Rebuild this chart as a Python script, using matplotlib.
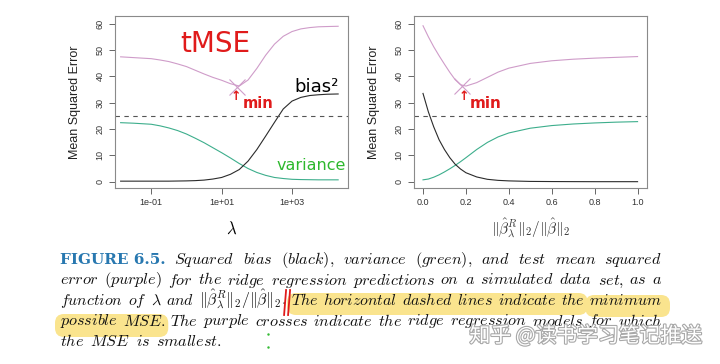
import re
import matplotlib
matplotlib.use("Agg")
import matplotlib.pyplot as plt
import matplotlib.patheffects as pe
from matplotlib.patches import FancyBboxPatch
from matplotlib.lines import Line2D
from matplotlib.ticker import NullLocator
from matplotlib.transforms import IdentityTransform

plt.rcParams['font.family'] = ['Liberation Sans', 'DejaVu Sans']
plt.rcParams['mathtext.fontset'] = 'cm'

W, H = 720, 364

# ---- left panel: x is log10(lambda)
lam_exp = [-1.87, -1.5, -1.25, -1.0, -0.75, -0.5, -0.25, 0.0, 0.25, 0.5, 0.75, 1.0,
           1.25, 1.5, 1.75, 2.0, 2.25, 2.5, 2.75, 3.0, 3.25, 3.5, 3.75, 4.0, 4.31]
bias_l = [0.2, 0.2, 0.2, 0.2, 0.2, 0.2, 0.25, 0.3, 0.4, 0.6, 1.0, 1.6,
          2.8, 4.6, 7.8, 12.2, 17.3, 22.5, 27.6, 30.6, 32.0, 32.7, 33.0, 33.2, 33.3]
var_l = [22.4, 22.2, 22.0, 21.8, 21.2, 20.4, 19.4, 18.1, 16.5, 14.8, 12.9, 11.0,
         9.0, 6.9, 5.0, 3.5, 2.4, 1.6, 1.2, 0.9, 0.8, 0.75, 0.7, 0.7, 0.7]
mse_l = [47.4, 47.1, 46.9, 46.7, 46.2, 45.6, 44.7, 43.7, 42.3, 40.9, 39.6, 38.5,
         37.2, 36.3, 38.6, 43.0, 48.0, 52.2, 55.2, 57.0, 58.0, 58.5, 58.8, 58.9, 59.0]
min_l = (10 ** 1.44, 36.0)

# ---- right panel: ||beta_lambda||_2 / ||beta||_2
ratio = [0.0, 0.025, 0.05, 0.075, 0.1, 0.125, 0.15, 0.175, 0.2, 0.25, 0.3, 0.35,
         0.4, 0.5, 0.6, 0.7, 0.8, 0.9, 1.0]
bias_r = [33.5, 26.5, 20.8, 15.9, 12.2, 9.1, 6.6, 4.8, 3.4, 1.8, 0.9, 0.5,
          0.3, 0.1, 0.05, 0.02, 0.0, 0.0, 0.0]
var_r = [0.7, 1.0, 1.7, 2.6, 3.7, 4.9, 6.2, 7.6, 9.1, 12.2, 14.9, 17.0,
         18.5, 20.3, 21.3, 21.9, 22.3, 22.6, 22.8]
mse_r = [59.2, 55.0, 51.2, 47.8, 44.6, 41.5, 38.7, 36.8, 36.3, 37.6, 39.6, 41.6,
         43.1, 44.9, 45.9, 46.5, 46.9, 47.2, 47.5]
min_r = (0.18, 36.4)

mse_floor = 25

c_mse = '#cf9cc9'
c_var = '#3dae8c'
c_bias = '#2b2b2b'

fig = plt.figure(figsize=(7.2, 3.64), dpi=100)


def P(x, y):
    return x / W, 1 - y / H


def ax_at(x0, x1, y0, y1):
    return fig.add_axes([x0 / W, 1 - y1 / H, (x1 - x0) / W, (y1 - y0) / H])


def style(ax):
    for s in ax.spines.values():
        s.set_color('#8a8a8a')
        s.set_linewidth(0.8)
    ax.tick_params(direction='out', length=4.5, width=0.7, color='#666666',
                   labelsize=6.5, labelcolor='#333333', pad=3)
    ax.set_ylim(-2.4, 62.9)
    ax.set_yticks(range(0, 61, 10))
    for lab in ax.get_yticklabels():
        lab.set_rotation(90)
        lab.set_va('center')
    ax.set_ylabel('Mean Squared Error', fontsize=9, color='#222222')
    ax.yaxis.set_label_coords(-0.146, 0.5)
    ax.axhline(mse_floor, color='#555555', lw=0.8, ls=(0, (4, 4)))


axL = ax_at(115, 348, 16, 188)
axR = ax_at(414, 647, 16, 188)

lam = [10.0 ** e for e in lam_exp]
axL.plot(lam, mse_l, color=c_mse, lw=0.8)
axL.plot(lam, var_l, color=c_var, lw=0.8)
axL.plot(lam, bias_l, color=c_bias, lw=0.8)
axL.plot(*min_l, marker='x', ms=11, mew=0.8, color=c_mse)
axL.set_xscale('log')
axL.set_xlim(10 ** -2.03, 10 ** 4.59)
axL.set_xticks([0.1, 10, 1000])
axL.set_xticklabels(['1e-01', '1e+01', '1e+03'])
axL.xaxis.set_minor_locator(NullLocator())
style(axL)
axL.set_xlabel(r'$\lambda$', fontsize=12)
axL.xaxis.set_label_coords(0.5, -0.19)

axR.plot(ratio, mse_r, color=c_mse, lw=0.8)
axR.plot(ratio, var_r, color=c_var, lw=0.8)
axR.plot(ratio, bias_r, color=c_bias, lw=0.8)
axR.plot(*min_r, marker='x', ms=11, mew=0.8, color=c_mse)
axR.set_xlim(-0.042, 1.044)
axR.set_xticks([0.0, 0.2, 0.4, 0.6, 0.8, 1.0])
axR.set_xticklabels(['0.0', '0.2', '0.4', '0.6', '0.8', '1.0'])
style(axR)
axR.set_xlabel(r'$\|\hat{\beta}^R_\lambda\|_2/\|\hat{\beta}\|_2$', fontsize=11, color='#333333')
axR.xaxis.set_label_coords(0.5, -0.165)

# handwritten notes
red = '#e01b1b'
fig.text(*P(215, 44), 'tMSE', color=red, fontsize=20, ha='center', va='center',
         family='DejaVu Sans')
fig.text(*P(236, 97), '↑', color=red, fontsize=9, ha='center', va='center',
         family='DejaVu Sans', weight='bold')
fig.text(*P(258, 103), 'min', color=red, fontsize=10.5, ha='center', va='center',
         family='DejaVu Sans', weight='bold')
fig.text(*P(464, 97), '↑', color=red, fontsize=9, ha='center', va='center',
         family='DejaVu Sans', weight='bold')
fig.text(*P(486, 103), 'min', color=red, fontsize=11, ha='center', va='center',
         family='DejaVu Sans', weight='bold')
fig.text(*P(317, 87), 'bias²', color='black', fontsize=13, ha='center', va='center',
         family='DejaVu Sans')
fig.text(*P(311, 166), 'variance', color='#2db82d', fontsize=11.5, ha='center',
         va='center', family='DejaVu Sans')

# ---- caption
cap_size = 11.6
blue = '#2878b0'
ink = '#111111'


def it(w):
    return '$' + re.sub(r'([A-Za-z]+)', r'\\mathit{\1}', w) + '$'


norm = r'$\|\hat{\beta}^R_\lambda\|_2/\|\hat{\beta}\|_2.$'
lines = [
    [('FIGURE 6.5.', blue, 'bold')] + [(it(w), ink, None) for w in
        'Squared bias (black), variance (green), and test mean squared'.split()],
    [(it(w), ink, None) for w in
        'error (purple) for the ridge regression predictions on a simulated data set, as a'.split()],
    [(it(w), ink, None) for w in 'function of'.split()] + [(r'$\lambda$', ink, None),
        (it('and'), ink, None), (norm, ink, None)] + [(it(w), ink, None) for w in
        'The horizontal dashed lines indicate the minimum'.split()],
    [(it(w), ink, None) for w in
        'possible MSE. The purple crosses indicate the ridge regression models for which'.split()],
    [(it(w), ink, None) for w in 'the MSE is smallest.'.split()],
]
baselines = [264, 284.5, 305, 325.5, 346]
x_left, x_right = 60, 662

r = fig.canvas.get_renderer()
pos = []
for i, (words, yb) in enumerate(zip(lines, baselines)):
    arts = []
    for w, c, wt in words:
        if wt:
            a = fig.text(0, 1 - yb / H, w, color=c, fontsize=cap_size - 0.6, va='baseline',
                         zorder=5, family='DejaVu Serif', weight='bold')
        else:
            a = fig.text(0, 1 - yb / H, w, color=c, fontsize=cap_size, va='baseline', zorder=5)
        arts.append(a)
    widths = [a.get_window_extent(r).width for a in arts]
    if i < 4:
        n = len(arts) - 1
        size = cap_size
        while sum(widths) + 4.5 * n > x_right - x_left:
            size -= 0.1
            for a, (w, c, wt) in zip(arts, words):
                if not wt:
                    a.set_fontsize(size)
            widths = [a.get_window_extent(r).width for a in arts]
        gap = (x_right - x_left - sum(widths)) / n
    else:
        gap = 6
    x = x_left
    row = []
    for a, w in zip(arts, widths):
        a.set_x(x / W)
        row.append((x, w))
        x += w + gap
    pos.append(row)


def highlight(x0, x1, y0, y1):
    fig.add_artist(FancyBboxPatch((x0, H - y1), x1 - x0, y1 - y0,
                                  boxstyle='round,pad=0,rounding_size=9',
                                  transform=IdentityTransform(), fc='#fae48e',
                                  ec='none', zorder=1))


yb = baselines[2]
highlight(pos[2][5][0] - 4, pos[2][10][0] + pos[2][10][1] + 3, yb - 12, yb + 10)
highlight(pos[2][11][0] - 4, pos[2][11][0] + pos[2][11][1] + 8, yb - 10, yb + 12)
yb = baselines[3]
highlight(pos[3][0][0] - 5, pos[3][1][0] + pos[3][1][1] + 3, yb - 11.5, yb + 11.5)

# red marks before "The"
xs = pos[2][5][0]
for dx in (-7, -3):
    fig.add_artist(Line2D([xs + dx + 2, xs + dx], [H - 290, H - 315], color=red, lw=1.3,
                          transform=IdentityTransform(), zorder=6))

# small green specks
fig.add_artist(Line2D([268, 268], [H - 334, H - 347], ls='none', marker='.', ms=1.5,
                      color='#33bb33', transform=IdentityTransform(), zorder=6))

# watermark
fig.text(*P(586, 336), '知乎 @读书学习笔记推送', fontsize=15, color='white', ha='center',
         va='center', family=['Noto Sans CJK SC', 'DejaVu Sans'], zorder=7,
         path_effects=[pe.withStroke(linewidth=1.6, foreground='#a8a8a8')])

fig.savefig('out.png', dpi=100)
